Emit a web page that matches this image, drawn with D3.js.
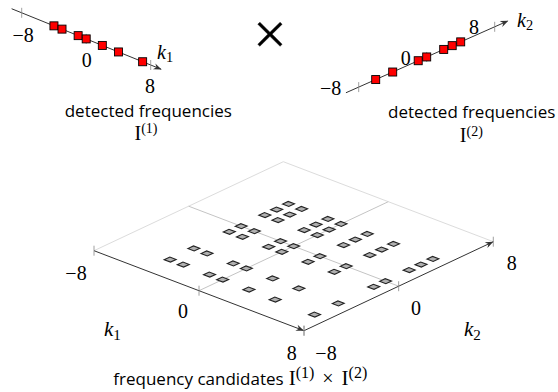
<!DOCTYPE html>
<html>
<head>
<meta charset="utf-8">
<script src="https://cdn.jsdelivr.net/npm/d3@7"></script>
<style>
  html, body { margin: 0; padding: 0; background: #fff; }
  svg { display: block; }
  .serif { font-family: "Liberation Serif", "DejaVu Serif", serif; }
  .sans { font-family: "Open Sans", "DejaVu Sans", sans-serif; }
</style>
</head>
<body>
<svg id="chart" width="558" height="392"></svg>
<script>
// ---------------- data ----------------
const I1 = [-4, -3, -1, 0, 2, 4, 7];      // detected frequencies I^(1)
const I2 = [-6, -4, -1, 0, 2, 3, 4];      // detected frequencies I^(2)
const tickValues = [-8, 0, 8];
const tickLabels = ["\u22128", "0", "8"];
const domain = [-8, 8];

const svg = d3.select("#chart");
const LAB = 20;   // tick label font size

// arrowhead helper: tip at (x,y), direction (dx,dy)
function arrowHead(g, x, y, dx, dy, color) {
  const len = Math.hypot(dx, dy); const ux = dx / len, uy = dy / len;
  const L = 8, W = 3.2, B = 2.5;
  const px = -uy, py = ux;
  const p = [
    [x, y],
    [x - L * ux + W * px, y - L * uy + W * py],
    [x - (L - B) * ux, y - (L - B) * uy],
    [x - L * ux - W * px, y - L * uy - W * py]
  ];
  g.append("path").attr("d", "M" + p.map(d => d.join(",")).join("L") + "Z")
    .attr("fill", color).attr("stroke", "none");
}
function kLabel(g, x, y, sub, size) {
  const t = g.append("text").attr("class", "serif").attr("font-size", size).attr("x", x).attr("y", y);
  t.append("tspan").attr("font-style", "italic").text("k");
  t.append("tspan").attr("font-size", size * 0.72).attr("dy", size * 0.17).text(sub);
}

// ---------------- top-left 1D axis (k1) ----------------
const t1x = d3.scaleLinear().domain(domain).range([21.7, 150.7]);
const t1y = d3.scaleLinear().domain(domain).range([12.8, 65.0]);
const g1 = svg.append("g");
g1.append("line")
  .attr("x1", t1x(-9.25)).attr("y1", t1y(-9.25))
  .attr("x2", t1x(9.3)).attr("y2", t1y(9.3))
  .attr("stroke", "#333").attr("stroke-width", 1);
arrowHead(g1, t1x(9.35), t1y(9.35), t1x(1) - t1x(0), t1y(1) - t1y(0), "#333");
g1.selectAll(".tk").data(tickValues).enter().append("line")
  .attr("x1", d => t1x(d)).attr("x2", d => t1x(d))
  .attr("y1", d => t1y(d) - 5).attr("y2", d => t1y(d) + 5)
  .attr("stroke", "#888").attr("stroke-width", 0.8);
g1.selectAll(".sq").data(I1).enter().append("rect")
  .attr("x", d => t1x(d) - 4).attr("y", d => t1y(d) - 4)
  .attr("width", 8).attr("height", 8)
  .attr("fill", "#ff0000").attr("stroke", "#000").attr("stroke-width", 0.9);
const t1LabOff = [[1.5, 42 - 12.8], [0.5, 67 - 38.9], [-0.7, 93 - 65]];
g1.selectAll(".lab").data(tickValues).enter().append("text")
  .attr("class", "serif").attr("font-size", LAB).attr("text-anchor", "middle")
  .attr("x", (d, i) => t1x(d) + t1LabOff[i][0])
  .attr("y", (d, i) => t1y(d) + t1LabOff[i][1])
  .text((d, i) => tickLabels[i]);
kLabel(g1, 157, 59, "1", 20);

// ---------------- top-right 1D axis (k2) ----------------
const t2x = d3.scaleLinear().domain(domain).range([358.7, 494.7]);
const t2y = d3.scaleLinear().domain(domain).range([87.1, 26.8]);
const g2 = svg.append("g");
g2.append("line")
  .attr("x1", t2x(-9.5)).attr("y1", t2y(-9.5))
  .attr("x2", t2x(9.5)).attr("y2", t2y(9.5))
  .attr("stroke", "#333").attr("stroke-width", 1);
arrowHead(g2, t2x(9.6), t2y(9.6), t2x(1) - t2x(0), t2y(1) - t2y(0), "#333");
g2.selectAll(".tk").data(tickValues).enter().append("line")
  .attr("x1", d => t2x(d)).attr("x2", d => t2x(d))
  .attr("y1", d => t2y(d) - 5).attr("y2", d => t2y(d) + 5)
  .attr("stroke", "#888").attr("stroke-width", 0.8);
g2.selectAll(".sq").data(I2).enter().append("rect")
  .attr("x", d => t2x(d) - 4).attr("y", d => t2y(d) - 4)
  .attr("width", 8).attr("height", 8)
  .attr("fill", "#ff0000").attr("stroke", "#000").attr("stroke-width", 0.9);
const t2LabPos = [[-28, 95 - 87.1], [-21, 65 - 57], [-20.7, 33.5 - 26.8]];
g2.selectAll(".lab").data(tickValues).enter().append("text")
  .attr("class", "serif").attr("font-size", LAB).attr("text-anchor", "middle")
  .attr("x", (d, i) => t2x(d) + t2LabPos[i][0])
  .attr("y", (d, i) => t2y(d) + t2LabPos[i][1])
  .text((d, i) => tickLabels[i]);
kLabel(g2, 517, 27, "2", 20);

// big times symbol
svg.append("text").attr("class", "serif").attr("font-size", 60)
  .attr("text-anchor", "middle").attr("x", 270).attr("y", 54)
  .attr("stroke", "#000").attr("stroke-width", 0.3).text("\u00D7");

// titles
function mathI(sel, sup, size, supSize, rise) {
  sel.append("tspan").attr("class", "serif").attr("font-size", size).text("I");
  sel.append("tspan").attr("class", "serif").attr("font-size", supSize)
    .attr("dy", -rise).text("(" + sup + ")");
}
svg.append("text").attr("class", "sans").attr("font-size", 17)
  .attr("text-anchor", "middle").attr("x", 148.3).attr("y", 116.7).text("detected frequencies");
mathI(svg.append("text").attr("text-anchor", "middle").attr("x", 146).attr("y", 140), "1", 20, 14, 7);
svg.append("text").attr("class", "sans").attr("font-size", 17)
  .attr("text-anchor", "middle").attr("x", 471.7).attr("y", 118).text("detected frequencies");
mathI(svg.append("text").attr("text-anchor", "middle").attr("x", 471.3).attr("y", 142), "2", 20, 14, 6.2);

// ---------------- bottom: product grid ----------------
const O = [94, 250.7], V1 = [210, 80], V2 = [189.3, -89];
const s = d3.scaleLinear().domain(domain).range([0, 1]);
const P = (a, b) => [O[0] + s(a) * V1[0] + s(b) * V2[0], O[1] + s(a) * V1[1] + s(b) * V2[1]];
const g3 = svg.append("g");
const seg = (p, q, col, w) => g3.append("line")
  .attr("x1", p[0]).attr("y1", p[1]).attr("x2", q[0]).attr("y2", q[1])
  .attr("stroke", col).attr("stroke-width", w);
// far edges (light)
seg(P(-8, -8), P(-8, 8), "#dcdcdc", 1);
seg(P(-8, 8), P(8, 8), "#dcdcdc", 1);
// mid grid lines
seg(P(0, -8), P(0, 8), "#c4c4c4", 1);
seg(P(-8, 0), P(8, 0), "#c4c4c4", 1);
// axes
seg(P(-8, -8), P(8, -8), "#333", 1);
seg(P(8, -8), P(8, 8), "#333", 1);
{
  const a = P(7, -8), b = P(8, -8); arrowHead(g3, b[0], b[1], b[0] - a[0], b[1] - a[1], "#333");
  const c = P(8, 7), d = P(8, 8); arrowHead(g3, d[0], d[1], d[0] - c[0], d[1] - c[1], "#333");
}
// ticks
const tickPts = tickValues.map(v => P(v, -8)).concat(tickValues.map(v => P(8, v)));
g3.selectAll(".tk").data(tickPts).enter().append("line")
  .attr("x1", d => d[0]).attr("x2", d => d[0])
  .attr("y1", d => d[1] - 5).attr("y2", d => d[1] + 5)
  .attr("stroke", "#888").attr("stroke-width", 0.8);
// candidates
const cands = [];
I1.forEach(a => I2.forEach(b => cands.push([a, b])));
const h = 0.24;
g3.selectAll(".cand").data(cands).enter().append("path")
  .attr("d", d => {
    const pts = [P(d[0] - h, d[1] - h), P(d[0] + h, d[1] - h), P(d[0] + h, d[1] + h), P(d[0] - h, d[1] + h)];
    return "M" + pts.map(p => p.join(",")).join("L") + "Z";
  })
  .attr("fill", "#b0b0b0").attr("stroke", "#222").attr("stroke-width", 1.1);
// tick labels
const k1LabOff = [[-18, 29.5], [-16, 27.6], [-12.3, 29.5]];
g3.selectAll(".l1").data(tickValues).enter().append("text")
  .attr("class", "serif").attr("font-size", LAB).attr("text-anchor", "middle")
  .attr("x", (d, i) => P(d, -8)[0] + k1LabOff[i][0])
  .attr("y", (d, i) => P(d, -8)[1] + k1LabOff[i][1])
  .text((d, i) => tickLabels[i]);
const k2LabOff = [[22, 29.5], [17.4, 28.3], [18.4, 27.8]];
g3.selectAll(".l2").data(tickValues).enter().append("text")
  .attr("class", "serif").attr("font-size", LAB).attr("text-anchor", "middle")
  .attr("x", (d, i) => P(8, d)[0] + k2LabOff[i][0])
  .attr("y", (d, i) => P(8, d)[1] + k2LabOff[i][1])
  .text((d, i) => tickLabels[i]);
kLabel(g3, 104, 336, "1", 21);
kLabel(g3, 464, 336, "2", 21);

// bottom title
const bt = svg.append("text").attr("text-anchor", "start").attr("x", 113.3).attr("y", 385);
bt.append("tspan").attr("class", "sans").attr("font-size", 17).text("frequency candidates");
bt.append("tspan").attr("class", "serif").attr("font-size", 21).attr("dx", 5).text("I");
bt.append("tspan").attr("class", "serif").attr("font-size", 16).attr("dy", -7.5).text("(1)");
bt.append("tspan").attr("class", "serif").attr("font-size", 20).attr("dy", 7.5).attr("dx", 8).text("\u00D7");
bt.append("tspan").attr("class", "serif").attr("font-size", 21).attr("dx", 8).text("I");
bt.append("tspan").attr("class", "serif").attr("font-size", 16).attr("dy", -7.5).text("(2)");
</script>
</body>
</html>
